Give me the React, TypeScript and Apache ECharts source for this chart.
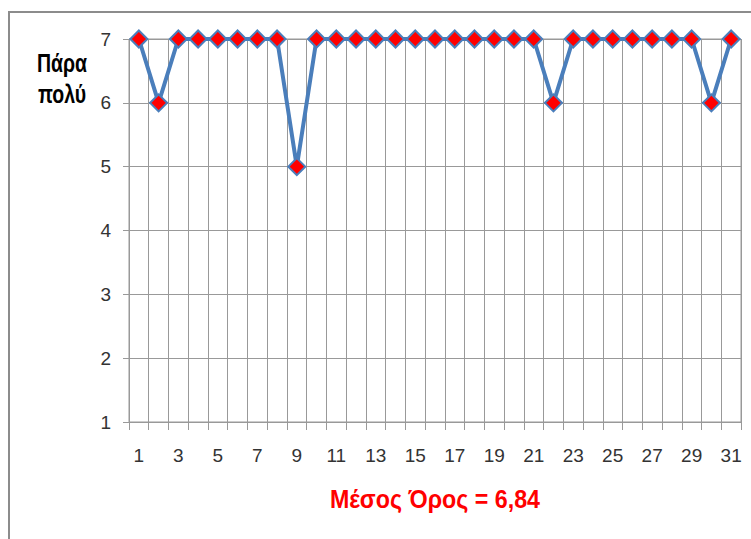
import React, { useEffect, useRef } from "react";
import * as echarts from "echarts";

const categories = Array.from({ length: 31 }, (_, i) => String(i + 1));
const values = [7, 6, 7, 7, 7, 7, 7, 7, 5, 7, 7, 7, 7, 7, 7, 7, 7, 7, 7, 7, 7, 6, 7, 7, 7, 7, 7, 7, 7, 6, 7];
const yAxisTitle = "Πάρα\nπολύ";
const bottomTitle = "Μέσος Όρος = 6,84";

export default function App() {
  const ref = useRef<HTMLDivElement>(null);
  useEffect(() => {
    if (!ref.current) return;
    const chart = echarts.init(ref.current, null, { renderer: "svg" });
    const sans = "'Liberation Sans', Arial, sans-serif";
    chart.setOption({
      animation: false,
      backgroundColor: "#ffffff",
      grid: { left: 129, right: 10, top: 39, bottom: 117, show: true, borderColor: "#999", borderWidth: 1, backgroundColor: "transparent" },
      graphic: [
        {
          type: "rect",
          shape: { x: 9, y: 12, width: 900, height: 700 },
          style: { fill: "none", stroke: "#8c8c8c", lineWidth: 2 },
          silent: true,
        },
        {
          type: "text",
          x: 62,
          y: 79,
          scaleX: 0.78,
          style: {
            text: yAxisTitle,
            fontSize: 25,
            fontWeight: "bold",
            fontFamily: sans,
            fill: "#000",
            align: "center",
            verticalAlign: "middle",
            lineHeight: 31,
          },
        },
        {
          type: "text",
          x: 435,
          y: 499,
          scaleX: 0.93,
          style: {
            text: bottomTitle,
            fontSize: 25,
            fontWeight: "bold",
            fontFamily: sans,
            fill: "#ff0000",
            align: "center",
            verticalAlign: "middle",
          },
        },
      ],
      xAxis: {
        type: "category",
        data: categories,
        boundaryGap: true,
        axisLine: { lineStyle: { color: "#999", width: 1 } },
        axisTick: { show: true, interval: 0, length: 8, lineStyle: { color: "#999" } },
        axisLabel: { interval: 1, margin: 24, fontSize: 19, color: "#333", fontFamily: sans },
        splitLine: { show: true, interval: 0, lineStyle: { color: "#999", width: 1 } },
      },
      yAxis: {
        type: "value",
        min: 1,
        max: 7,
        interval: 1,
        axisLine: { show: true, lineStyle: { color: "#999", width: 1 } },
        axisTick: { show: true, length: 6, lineStyle: { color: "#999" } },
        axisLabel: { fontSize: 19, color: "#333", margin: 18, fontFamily: sans },
        splitLine: { show: true, lineStyle: { color: "#999", width: 1 } },
      },
      series: [
        {
          type: "line",
          data: values,
          symbol: "diamond",
          symbolSize: 17,
          showAllSymbol: true,
          lineStyle: { color: "#4a7ebb", width: 4 },
          itemStyle: { color: "#ff0000", borderColor: "#4a7ebb", borderWidth: 2 },
          z: 5,
        },
      ],
    });
    return () => chart.dispose();
  }, []);
  return <div ref={ref} style={{ position: "absolute", left: 0, top: 0, width: 751, height: 539 }} />;
}
